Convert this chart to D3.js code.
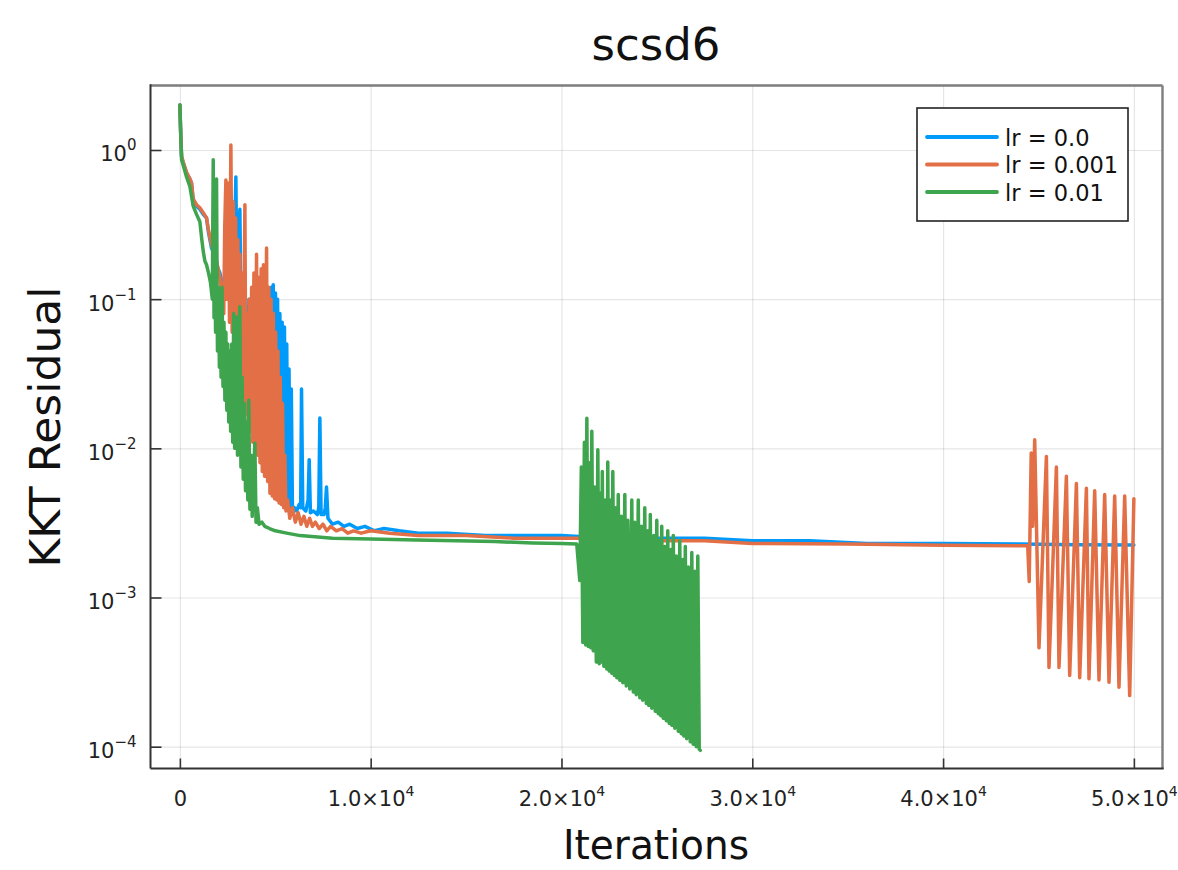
<!DOCTYPE html>
<html>
<head>
<meta charset="utf-8">
<script src="https://cdn.jsdelivr.net/npm/d3@7"></script>
<style>
  html, body { margin: 0; padding: 0; background: #fff; }
  svg { display: block; font-family: "DejaVu Sans", sans-serif; }
</style>
</head>
<body>
<svg id="chart" width="1178" height="870"></svg>
<script>
// KKT residual histories on scsd6, one run per learning rate: [iteration, residual]
const seriesNames = ["lr = 0.0", "lr = 0.001", "lr = 0.01"];
const seriesColors = ["#009AFA", "#E26F46", "#3EA44E"];

const lr0 = [
  [0,2.0],[50,1.2],[90,0.90],[175,0.82],[349,0.70],[524,0.64],[610,0.60],[699,0.46],[873,0.42],
  [1048,0.40],[1223,0.37],[1397,0.35],[1500,0.28],[1572,0.25],[1660,0.22],[1800,0.20],[1921,0.17],
  [2096,0.15],[2271,0.12],[2445,0.11],[2600,0.10],[2700,0.30],[2780,0.09],[2850,0.20],[2934,0.66],
  [3000,0.09],[3070,0.25],[3144,0.40],[3220,0.05],[3300,0.12],[3380,0.03],[3460,0.09],[3540,0.02],
  [3620,0.10],[3700,0.015],[3844,0.12],[3920,0.012],[4000,0.10],[4080,0.010],[4160,0.09],[4240,0.009],
  [4320,0.10],[4400,0.008],[4480,0.10],[4560,0.007],[4640,0.11],[4720,0.006],[4800,0.12],[4850,0.006],
  [4892,0.125],[4950,0.0055],[5010,0.11],[5067,0.0050],[5120,0.10],[5180,0.0048],[5241,0.08],[5300,0.0045],
  [5360,0.07],[5416,0.0042],[5480,0.065],[5540,0.0040],[5600,0.05],[5660,0.0039],[5720,0.034],[5780,0.0039],
  [5840,0.025],[5900,0.0038],[6000,0.0040],[6113,0.0038],[6250,0.0042],[6330,0.0040],[6375,0.025],
  [6440,0.0040],[6600,0.0038],[6720,0.0045],[6777,0.0084],[6840,0.0037],[7000,0.0038],[7200,0.0036],
  [7280,0.0040],[7336,0.016],[7400,0.0036],[7560,0.0036],[7620,0.0040],[7685,0.0055],[7760,0.0034],
  [8000,0.0031],[8300,0.0032],[8600,0.0030],[8900,0.0031],[9300,0.0029],[9700,0.0030],[10200,0.0028],
  [10700,0.0029],[11500,0.0028],[12500,0.0027],[14000,0.0027],[16000,0.0026],[18000,0.0026],
  [20000,0.0026],[22500,0.0025],[25000,0.0025],[27500,0.0025],[30000,0.0024],[33000,0.0024],
  [36000,0.0023],[40000,0.0023],[44000,0.00228],[47000,0.00226],[50000,0.00225]
];

const lr0001 = [
  [0,2.0],[50,1.2],[90,0.91],[175,0.83],[349,0.71],[524,0.64],[610,0.60],[699,0.47],[873,0.43],
  [1048,0.41],[1223,0.38],[1397,0.35],[1500,0.29],[1572,0.26],[1660,0.23],[1800,0.21],[1921,0.18],
  [2096,0.14],[2200,0.11],[2300,0.08],[2350,0.30],[2411,0.63],[2460,0.10],[2533,0.60],[2600,0.07],
  [2673,1.08],[2740,0.06],[2800,0.45],[2860,0.056],[2920,0.35],[2980,0.06],[3040,0.25],[3090,0.03],
  [3144,0.20],[3200,0.025],[3260,0.15],[3320,0.02],[3407,0.43],[3460,0.017],[3520,0.08],[3580,0.015],
  [3640,0.10],[3700,0.013],[3760,0.12],[3820,0.011],[3880,0.15],[3940,0.010],[4018,0.20],[4080,0.009],
  [4140,0.14],[4200,0.008],[4260,0.16],[4320,0.007],[4380,0.17],[4440,0.0065],[4543,0.22],[4600,0.006],
  [4660,0.12],[4720,0.005],[4780,0.10],[4840,0.0048],[4900,0.08],[4960,0.0046],[5020,0.06],[5080,0.0045],
  [5140,0.045],[5200,0.0043],[5260,0.03],[5320,0.0042],[5380,0.02],[5440,0.0040],[5500,0.009],
  [5560,0.0038],[5650,0.0045],[5760,0.0034],[5900,0.0040],[6050,0.0032],[6200,0.0037],[6350,0.0031],
  [6500,0.0035],[6650,0.0030],[6800,0.0034],[6950,0.0030],[7100,0.0032],[7300,0.0029],[7500,0.0031],
  [7700,0.0028],[7900,0.0030],[8200,0.0028],[8500,0.0029],[8800,0.0027],[9100,0.0028],[9500,0.0027],
  [10000,0.0028],[11000,0.0027],[12500,0.0026],[15000,0.0026],[17500,0.0025],[20000,0.0025],
  [22500,0.0025],[25000,0.0024],[27500,0.0024],[30000,0.0023],[35000,0.00228],[40000,0.00224],
  [44435,0.00222],[44514,0.00128],[44619,0.0093],[44697,0.0030],[44802,0.0114],[45027,0.00046],
  [45415,0.0088],[45551,0.00034],[45939,0.0075],[46075,0.00034],[46463,0.0065],[46636,0.00030],
  [46987,0.0058],[47160,0.00029],[47511,0.0054],[47647,0.000285],[47946,0.0052],[48171,0.00028],
  [48470,0.0049],[48695,0.00027],[48994,0.0048],[49219,0.00025],[49518,0.0048],[49780,0.00022],
  [50000,0.0046]
];

const lr001 = [
  [0,2.0],[50,1.2],[90,0.86],[175,0.79],[349,0.66],[524,0.57],[699,0.42],[873,0.37],[1048,0.33],
  [1150,0.25],[1223,0.21],[1310,0.18],[1397,0.17],[1500,0.15],[1600,0.13],[1700,0.10],[1747,0.86],
  [1790,0.075],[1830,0.30],[1870,0.06],[1921,0.64],[1970,0.045],[2020,0.12],[2070,0.035],[2120,0.10],
  [2160,0.03],[2210,0.12],[2260,0.026],[2310,0.07],[2360,0.021],[2410,0.06],[2460,0.018],[2510,0.05],
  [2560,0.015],[2610,0.045],[2660,0.013],[2720,0.05],[2770,0.011],[2820,0.08],[2870,0.010],[2920,0.05],
  [2969,0.076],[3020,0.009],[3080,0.04],[3144,0.089],[3200,0.0075],[3260,0.03],[3320,0.0062],
  [3380,0.02],[3440,0.0052],[3500,0.015],[3560,0.0045],[3610,0.021],[3670,0.0039],[3730,0.009],
  [3790,0.0035],[3860,0.007],[3930,0.0108],[3990,0.0032],[4060,0.0040],[4150,0.0031],
  [4300,0.0032],[4450,0.0030],[4700,0.0029],[5000,0.0028],[5600,0.0027],[6300,0.0026],[8000,0.0025],
  [10000,0.00247],[12400,0.00243],[14500,0.0024],[16500,0.00237],[18500,0.00232],[20000,0.0023],
  [20800,0.00228],
  [20960,0.0013],[21040,0.0075],[21120,0.00050],[21200,0.0110],[21270,0.00048],[21330,0.0159],
  [21405,0.00047],[21485,0.0080],[21535,0.00046],[21590,0.0130],[21665,0.00044],[21745,0.0055],
  [21825,0.00037],[21905,0.0098],[21980,0.00036],[22035,0.0050],[22085,0.00037],[22140,0.0070],
  [22220,0.000346],[22295,0.0045],[22375,0.000332],[22425,0.0081],[22505,0.000321],[22585,0.0045],
  [22635,0.000311],[22690,0.0070],[22770,0.000300],[22845,0.0040],[22900,0.000290],[22975,0.0049],
  [23055,0.000279],[23135,0.0035],[23215,0.000268],[23320,0.0049],[23395,0.000255],[23475,0.0033],
  [23580,0.000244],[23685,0.0045],[23765,0.000233],[23840,0.0032],[23920,0.000223],[24025,0.0045],
  [24105,0.000213],[24185,0.0030],[24260,0.000205],[24365,0.0040],[24445,0.000195],[24525,0.0028],
  [24575,0.000189],[24655,0.0036],[24735,0.000181],[24840,0.0026],[24915,0.000173],[24995,0.0033],
  [25075,0.000166],[25150,0.0024],[25205,0.000161],[25255,0.0030],[25335,0.000155],[25415,0.0022],
  [25495,0.000149],[25570,0.0028],[25650,0.000143],[25730,0.0021],[25780,0.000139],[25860,0.0026],
  [25940,0.000133],[26015,0.0019],[26120,0.000127],[26200,0.0024],[26280,0.000122],[26355,0.0018],
  [26410,0.000118],[26490,0.0022],[26565,0.000113],[26645,0.0016],[26750,0.000108],[26830,0.0020],
  [26905,0.000104],[26985,0.0015],[27065,0.0000998],[27145,0.0019],[27220,0.0000960],[27275,0.0000946]
];

const seriesData = [lr0, lr0001, lr001];

const xTicks = [0, 10000, 20000, 30000, 40000, 50000];
const xTickLabels = [["0", ""], ["1.0×10", "4"], ["2.0×10", "4"], ["3.0×10", "4"], ["4.0×10", "4"], ["5.0×10", "4"]];
const yTicks = [1e-4, 1e-3, 1e-2, 1e-1, 1];
const yTickLabels = [["10", "−4"], ["10", "−3"], ["10", "−2"], ["10", "−1"], ["10", "0"]];
const xLimits = [-1540, 51500];
const yLimits = [7.14e-5, 2.706];

const titleText = "scsd6";
const xLabelText = "Iterations";
const yLabelText = "KKT Residual";

// ---- layout ----
const plot = { left: 150.5, right: 1162.5, top: 85.5, bottom: 768.5 };
const svg = d3.select("#chart");

const x = d3.scaleLinear().domain(xLimits).range([plot.left, plot.right]);
const y = d3.scaleLog().domain(yLimits).range([plot.bottom, plot.top]);

// grid
const gridX = svg.append("g").attr("transform", `translate(0,${plot.bottom})`)
  .call(d3.axisBottom(x).tickValues(xTicks).tickSize(-(plot.bottom - plot.top)).tickFormat(""));
const gridY = svg.append("g").attr("transform", `translate(${plot.left},0)`)
  .call(d3.axisLeft(y).tickValues(yTicks).tickSize(-(plot.right - plot.left)).tickFormat(""));
[gridX, gridY].forEach(g => {
  g.select(".domain").remove();
  g.selectAll(".tick line").attr("stroke", "#000").attr("stroke-opacity", 0.1).attr("stroke-width", 1.2);
});

// series
svg.append("clipPath").attr("id", "plot-clip")
  .append("rect").attr("x", plot.left).attr("y", plot.top)
  .attr("width", plot.right - plot.left).attr("height", plot.bottom - plot.top);

const line = d3.line().x(d => x(d[0])).y(d => y(d[1]));
svg.append("g").attr("clip-path", "url(#plot-clip)")
  .selectAll("path").data(seriesData).join("path")
  .attr("d", line)
  .attr("fill", "none")
  .attr("stroke", (d, i) => seriesColors[i])
  .attr("stroke-width", 3.5)
  .attr("stroke-linejoin", "round")
  .attr("stroke-linecap", "round");

// frame
svg.append("line").attr("x1", plot.left).attr("x2", plot.right).attr("y1", plot.top).attr("y2", plot.top)
  .attr("stroke", "#7d7d7d").attr("stroke-width", 2.4);
svg.append("line").attr("x1", plot.right).attr("x2", plot.right).attr("y1", plot.top).attr("y2", plot.bottom)
  .attr("stroke", "#7d7d7d").attr("stroke-width", 2.4);
svg.append("line").attr("x1", plot.left).attr("x2", plot.left).attr("y1", plot.top - 1.2).attr("y2", plot.bottom)
  .attr("stroke", "#333").attr("stroke-width", 2);
svg.append("line").attr("x1", plot.left).attr("x2", plot.right + 1.2).attr("y1", plot.bottom).attr("y2", plot.bottom)
  .attr("stroke", "#333").attr("stroke-width", 2);

// axes
const gx = svg.append("g").attr("transform", `translate(0,${plot.bottom})`)
  .call(d3.axisBottom(x).tickValues(xTicks).tickSizeInner(-10).tickSizeOuter(0).tickPadding(0).tickFormat(""));
gx.attr("font-family", null).attr("font-size", null);
gx.select(".domain").remove();
gx.selectAll(".tick line").attr("stroke", "#333").attr("stroke-width", 1.6);
gx.selectAll(".tick text")
  .attr("y", 37).attr("dy", null).attr("font-size", 21).attr("fill", "#222")
  .each(function(d, i) {
    const t = d3.select(this);
    const [base, sup] = xTickLabels[i];
    t.append("tspan").text(base);
    if (sup) t.append("tspan").attr("dy", -10).attr("font-size", 14).text(sup);
  });

const gy = svg.append("g").attr("transform", `translate(${plot.left},0)`)
  .call(d3.axisLeft(y).tickValues(yTicks).tickSizeInner(-11).tickSizeOuter(0).tickPadding(14).tickFormat(""));
gy.attr("font-family", null).attr("font-size", null);
gy.select(".domain").remove();
gy.selectAll(".tick line").attr("stroke", "#333").attr("stroke-width", 1.6);
gy.selectAll(".tick text")
  .attr("dy", null).attr("y", 11).attr("font-size", 21).attr("fill", "#222")
  .each(function(d, i) {
    const t = d3.select(this);
    const [base, sup] = yTickLabels[i];
    t.append("tspan").text(base);
    t.append("tspan").attr("dy", -11).attr("font-size", 15).text(sup);
  });

// titles
svg.append("text").attr("x", 656).attr("y", 60).attr("text-anchor", "middle")
  .attr("font-size", 45).attr("fill", "#111").text(titleText);
svg.append("text").attr("x", 656).attr("y", 859).attr("text-anchor", "middle")
  .attr("font-size", 40).attr("fill", "#111")
  .attr("textLength", 186).attr("lengthAdjust", "spacingAndGlyphs").text(xLabelText);
svg.append("text").attr("transform", "translate(60,427) rotate(-90)").attr("text-anchor", "middle")
  .attr("font-size", 42).attr("fill", "#111")
  .attr("textLength", 281).attr("lengthAdjust", "spacingAndGlyphs").text(yLabelText);

// legend
const legend = svg.append("g");
legend.append("rect").attr("x", 917).attr("y", 108).attr("width", 211).attr("height", 113)
  .attr("fill", "#fff").attr("stroke", "#222").attr("stroke-width", 1.6);
const rowY = d3.scalePoint().domain(seriesNames).range([137, 192]);
const items = legend.selectAll("g.item").data(seriesNames).join("g").attr("class", "item");
items.append("line").attr("x1", 927).attr("x2", 997)
  .attr("y1", d => rowY(d)).attr("y2", d => rowY(d))
  .attr("stroke", (d, i) => seriesColors[i]).attr("stroke-width", 3.8).attr("stroke-linecap", "round");
items.append("text").attr("x", 1005).attr("y", d => rowY(d) + 8.5)
  .attr("font-size", 22.5).attr("fill", "#111").text(d => d);
</script>
</body>
</html>
